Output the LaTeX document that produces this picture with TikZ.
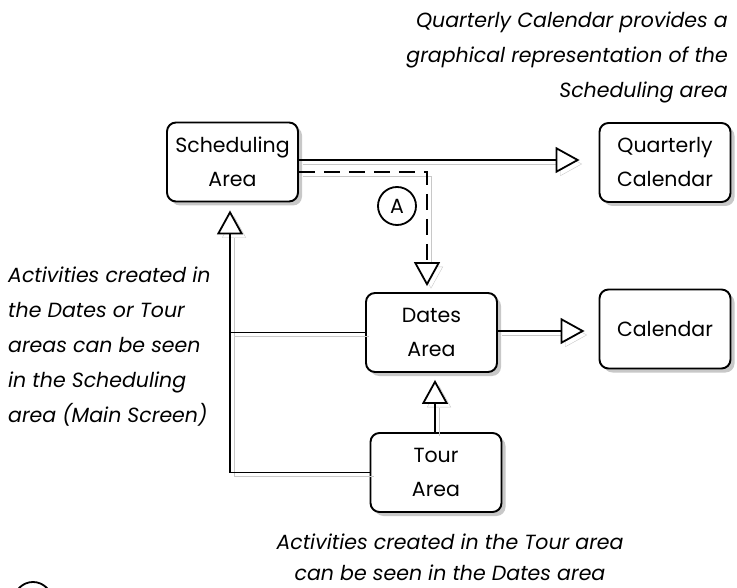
\documentclass[tikz,border=0pt]{standalone}
\usepackage{fontspec}
\setmainfont{Poppins}
\usetikzlibrary{arrows.meta,shadows,calc}
\definecolor{shadowgray}{HTML}{C8C8C8}
\begin{document}
\begin{tikzpicture}[x=1pt,y=-1pt,
  box/.style={draw, line width=1.9pt, rounded corners=9pt, fill=white,
    minimum width=131pt, minimum height=79pt, align=center, inner sep=0pt,
    font=\fontsize{20.5}{34}\selectfont,
    drop shadow={shadow xshift=4pt, shadow yshift=-4pt, fill=shadowgray, opacity=1}},
  note/.style={inner sep=0pt, font=\fontsize{20.5}{35}\selectfont\itshape},
  link/.style={line width=1.8pt,
    preaction={draw=shadowgray, transform canvas={xshift=4pt,yshift=-4pt}}},
  tip/.style={-{Triangle[length=24pt,width=26pt,fill=white,line width=1.8pt]}},
  label circle/.style={circle, draw, line width=1.8pt, minimum size=38pt,
    inner sep=0pt, font=\fontsize{20.5}{22}\selectfont},
]
\useasboundingbox (0,0) rectangle (737,588);

% boxes
\node[box] (sched) at (232.5,162) {Scheduling\\Area};
\node[box] (quart) at (665,162.5) {Quarterly\\Calendar};
\node[box] (cal)   at (665,329)   {Calendar};
\node[box] (dates) at (431.5,332.5) {Dates\\Area};
\node[box] (tour)  at (436,472.5) {Tour\\Area};

% routing points
\coordinate (bend) at (427,172);
\coordinate (lc) at (230,472);

% connectors
\draw[link,tip,shorten >=19pt] ([yshift=2pt]sched.east) -- ([yshift=2pt]sched.east -| quart.west);
\draw[link,tip,dash pattern=on 16pt off 9pt,shorten >=6pt]
  (sched.east |- bend) -- (bend) -- (bend |- dates.north);
\draw[link,tip,shorten >=14pt] ([yshift=1.5pt]dates.east) -- ([yshift=1.5pt]dates.east -| cal.west);
\draw[link,tip,shorten >=7pt] ([xshift=-1pt]tour.north) -- ([xshift=-1pt]tour.north |- dates.south);
\draw[link,tip,shorten >=8pt] (tour.west) -- (tour.west -| lc) -- (lc |- sched.south);
\draw[link] (dates.west) -- (dates.west -| lc);

% callout marker
\node[label circle] (a) at (397,206) {A};
\begin{scope}
  \clip (0,0) rectangle (737,588);
  \node[label circle] (key) at (33,601) {};
\end{scope}

% notes
\node[note, anchor=north east, align=right] (n1) at (728,12)
  {Quarterly Calendar provides a\\graphical representation of the\\Scheduling area};
\node[note, anchor=north west, align=left] (n2) at (8,267)
  {Activities created in\\the Dates or Tour\\areas can be seen\\in the Scheduling\\area (Main Screen)};
\node[note, anchor=north, align=center, font=\fontsize{20.5}{31}\selectfont\itshape] (n3) at (450,534)
  {Activities created in the Tour area\\can be seen in the Dates area};
\end{tikzpicture}
\end{document}
